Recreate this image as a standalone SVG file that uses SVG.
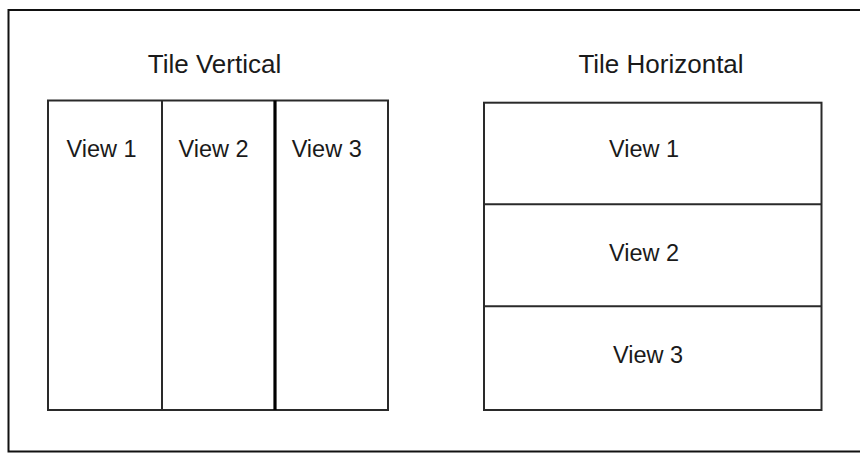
<svg xmlns="http://www.w3.org/2000/svg" width="860" height="453" viewBox="0 0 860 453">
<style>
.frame{fill:none;stroke:#111;stroke-width:2}
.box{fill:#fff;stroke:#2a2a2a;stroke-width:2}
.div{stroke:#2a2a2a;stroke-width:2}
.thick{stroke:#000;stroke-width:3.2}
.title{font-family:"Liberation Sans",Arial,sans-serif;font-size:26px;fill:#1a1a1a;text-anchor:middle}
.lbl{font-family:"Liberation Sans",Arial,sans-serif;font-size:23.5px;fill:#1a1a1a;text-anchor:middle}
</style>
<rect width="860" height="453" fill="#fff"/>
<path class="frame" d="M870,10 H8.5 V451.5 H870"/>
<g id="tile-vertical">
<text class="title" x="214.5" y="73">Tile Vertical</text>
<rect class="box" x="48" y="100.5" width="340" height="309.5"/>
<line class="div" x1="162" y1="100.5" x2="162" y2="410"/>
<line class="thick" x1="275" y1="100.5" x2="275" y2="410"/>
</g>
<g id="tv-view1"><text class="lbl" x="101.5" y="157">View 1</text></g>
<g id="tv-view2"><text class="lbl" x="213.5" y="157">View 2</text></g>
<g id="tv-view3"><text class="lbl" x="326.7" y="157">View 3</text></g>
<g id="tile-horizontal">
<text class="title" x="661" y="73">Tile Horizontal</text>
<rect class="box" x="484" y="102.7" width="337.5" height="307.3"/>
<line class="div" x1="484" y1="204.3" x2="821.5" y2="204.3"/>
<line class="div" x1="484" y1="306.3" x2="821.5" y2="306.3"/>
</g>
<g id="th-view1"><text class="lbl" x="644" y="157">View 1</text></g>
<g id="th-view2"><text class="lbl" x="644" y="261">View 2</text></g>
<g id="th-view3"><text class="lbl" x="648" y="363">View 3</text></g>
<g id="connectors"/>
</svg>
